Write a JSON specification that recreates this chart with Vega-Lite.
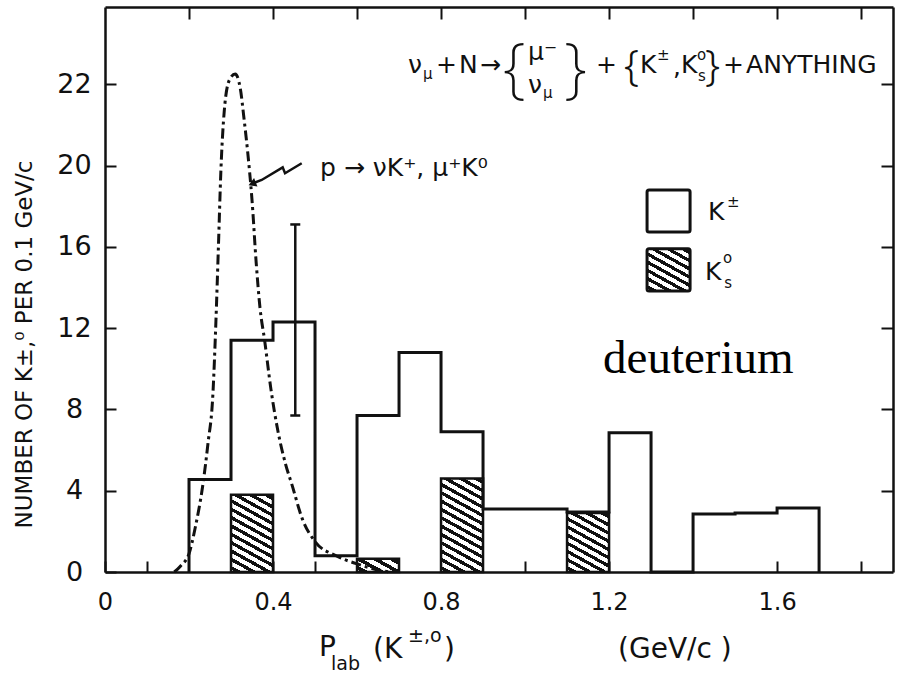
{
  "$schema": "https://vega.github.io/schema/vega-lite/v6.json",
  "width": 788,
  "height": 565,
  "autosize": {"type": "none"},
  "padding": {"left": 105, "top": 7, "right": 5, "bottom": 108},
  "background": "white",
  "config": {"view": {"stroke": null}, "axis": {"labelFont": "DejaVu Sans", "titleFont": "DejaVu Sans"}},
  "datasets": {
    "kpm": [
      {"i": 0, "x": 0.2, "n": 0}, {"i": 1, "x": 0.2, "n": 4.55}, {"i": 2, "x": 0.3, "n": 11.4},
      {"i": 3, "x": 0.4, "n": 12.3}, {"i": 4, "x": 0.5, "n": 0.8}, {"i": 5, "x": 0.6, "n": 7.7},
      {"i": 6, "x": 0.7, "n": 10.8}, {"i": 7, "x": 0.8, "n": 6.9}, {"i": 8, "x": 0.9, "n": 3.1},
      {"i": 9, "x": 1.1, "n": 2.95}, {"i": 10, "x": 1.2, "n": 6.85}, {"i": 11, "x": 1.3, "n": 0},
      {"i": 12, "x": 1.4, "n": 2.85}, {"i": 13, "x": 1.5, "n": 2.9}, {"i": 14, "x": 1.6, "n": 3.15},
      {"i": 15, "x": 1.7, "n": 0}
    ],
    "k0": [
      {"lo": 0.3, "hi": 0.4, "n": 3.8},
      {"lo": 0.6, "hi": 0.7, "n": 0.65},
      {"lo": 0.8, "hi": 0.9, "n": 4.6},
      {"lo": 1.1, "hi": 1.2, "n": 2.9}
    ],
    "curve": [
      {"x": 0.165, "n": 0}, {"x": 0.18, "n": 0.3}, {"x": 0.2, "n": 0.9}, {"x": 0.215, "n": 2.2},
      {"x": 0.233, "n": 4.3}, {"x": 0.245, "n": 6.3}, {"x": 0.257, "n": 8.8}, {"x": 0.264, "n": 12.3},
      {"x": 0.27, "n": 16}, {"x": 0.276, "n": 19.8}, {"x": 0.284, "n": 22.7}, {"x": 0.296, "n": 24.2},
      {"x": 0.31, "n": 24.5}, {"x": 0.322, "n": 23.8}, {"x": 0.331, "n": 22.3}, {"x": 0.34, "n": 20.6},
      {"x": 0.35, "n": 18.3}, {"x": 0.36, "n": 15.2}, {"x": 0.369, "n": 13.0}, {"x": 0.38, "n": 11.4},
      {"x": 0.395, "n": 9.0}, {"x": 0.412, "n": 6.9}, {"x": 0.43, "n": 5.3}, {"x": 0.445, "n": 4.3},
      {"x": 0.47, "n": 2.6}, {"x": 0.5, "n": 1.5}, {"x": 0.55, "n": 0.8}, {"x": 0.6, "n": 0.4},
      {"x": 0.65, "n": 0.1}, {"x": 0.68, "n": 0}
    ],
    "err": [{"x": 0.453, "lo": 7.7, "hi": 17.1}],
    "arrow": [
      {"i": 0, "x": 0.4683, "n": 20.11}, {"i": 1, "x": 0.4286, "n": 19.62}, {"i": 2, "x": 0.423, "n": 19.91},
      {"i": 3, "x": 0.373, "n": 19.29}, {"i": 4, "x": 0.3532, "n": 19.13}
    ],
    "leg": [
      {"k": "open", "x": 1.2905, "x2": 1.3929, "n": 16.73, "n2": 18.8},
      {"k": "hatch", "x": 1.2905, "x2": 1.3929, "n": 13.83, "n2": 15.9}
    ],
    "txt": [
      {"r": "a", "x": 0.7214, "n": 24.95, "t": "ν"},
      {"r": "s", "x": 0.7571, "n": 24.5, "t": "μ"},
      {"r": "a", "x": 0.7881, "n": 24.95, "t": "+"},
      {"r": "a", "x": 0.8429, "n": 24.95, "t": "N"},
      {"r": "a", "x": 0.8929, "n": 24.95, "t": "→"},
      {"r": "bb", "x": 0.9476, "n": 24.66, "t": "{"},
      {"r": "a", "x": 1.0071, "n": 25.6, "t": "μ⁻"},
      {"r": "a", "x": 1.0071, "n": 23.95, "t": "ν"},
      {"r": "s", "x": 1.0429, "n": 23.55, "t": "μ"},
      {"r": "bb", "x": 1.0929, "n": 24.66, "t": "}"},
      {"r": "a", "x": 1.169, "n": 24.95, "t": "+"},
      {"r": "br", "x": 1.2357, "n": 24.85, "t": "{"},
      {"r": "a", "x": 1.2738, "n": 24.95, "t": "K"},
      {"r": "s", "x": 1.314, "n": 25.45, "t": "±"},
      {"r": "a", "x": 1.352, "n": 24.85, "t": ","},
      {"r": "a", "x": 1.3714, "n": 24.95, "t": "K"},
      {"r": "s", "x": 1.4095, "n": 25.45, "t": "o"},
      {"r": "s", "x": 1.412, "n": 24.4, "t": "s"},
      {"r": "br", "x": 1.4286, "n": 24.85, "t": "}"},
      {"r": "a", "x": 1.4714, "n": 24.95, "t": "+"},
      {"r": "a", "x": 1.5262, "n": 24.95, "t": "ANYTHING"},
      {"r": "a", "x": 1.4357, "n": 17.72, "t": "K"},
      {"r": "s", "x": 1.481, "n": 18.2, "t": "±"},
      {"r": "a", "x": 1.4286, "n": 14.76, "t": "K"},
      {"r": "s", "x": 1.4714, "n": 15.45, "t": "o"},
      {"r": "s", "x": 1.474, "n": 14.2, "t": "s"},
      {"r": "pk", "x": 0.512, "n": 19.88, "t": "p → νK⁺, μ⁺K⁰"},
      {"r": "xt", "x": 0.5095, "n": -3.74, "t": "P"},
      {"r": "xts", "x": 0.5381, "n": -4.55, "t": "lab"},
      {"r": "xt", "x": 0.638, "n": -3.84, "t": "(K"},
      {"r": "xts", "x": 0.7214, "n": -3.15, "t": "±,o"},
      {"r": "xt", "x": 0.807, "n": -3.84, "t": ")"},
      {"r": "xt", "x": 1.2214, "n": -3.84, "t": "(GeV/c  )"},
      {"r": "deut", "x": 1.1857, "n": 9.79, "t": "deuterium"}
    ]
  },
  "resolve": {"axis": {"x": "independent", "y": "independent"}},
  "layer": [
    {
      "data": {"name": "k0"},
      "transform": [{"filter": "datum.lo == 0.3"}],
      "mark": {"type": "rect", "stroke": "#111", "strokeWidth": 2.5,
        "fill": {"gradient": "linear", "x1": 0, "y1": 1, "x2": 0.3568, "y2": -0.1924, "stops": [
          {"offset": 0.025, "color": "#fff"}, {"offset": 0.025, "color": "#111"}, {"offset": 0.0625, "color": "#111"}, {"offset": 0.0625, "color": "#fff"},
          {"offset": 0.1083, "color": "#fff"}, {"offset": 0.1083, "color": "#111"}, {"offset": 0.1458, "color": "#111"}, {"offset": 0.1458, "color": "#fff"},
          {"offset": 0.1917, "color": "#fff"}, {"offset": 0.1917, "color": "#111"}, {"offset": 0.2292, "color": "#111"}, {"offset": 0.2292, "color": "#fff"},
          {"offset": 0.275, "color": "#fff"}, {"offset": 0.275, "color": "#111"}, {"offset": 0.3125, "color": "#111"}, {"offset": 0.3125, "color": "#fff"},
          {"offset": 0.3583, "color": "#fff"}, {"offset": 0.3583, "color": "#111"}, {"offset": 0.3958, "color": "#111"}, {"offset": 0.3958, "color": "#fff"},
          {"offset": 0.4417, "color": "#fff"}, {"offset": 0.4417, "color": "#111"}, {"offset": 0.4792, "color": "#111"}, {"offset": 0.4792, "color": "#fff"},
          {"offset": 0.525, "color": "#fff"}, {"offset": 0.525, "color": "#111"}, {"offset": 0.5625, "color": "#111"}, {"offset": 0.5625, "color": "#fff"},
          {"offset": 0.6083, "color": "#fff"}, {"offset": 0.6083, "color": "#111"}, {"offset": 0.6458, "color": "#111"}, {"offset": 0.6458, "color": "#fff"},
          {"offset": 0.6917, "color": "#fff"}, {"offset": 0.6917, "color": "#111"}, {"offset": 0.7292, "color": "#111"}, {"offset": 0.7292, "color": "#fff"},
          {"offset": 0.775, "color": "#fff"}, {"offset": 0.775, "color": "#111"}, {"offset": 0.8125, "color": "#111"}, {"offset": 0.8125, "color": "#fff"},
          {"offset": 0.8583, "color": "#fff"}, {"offset": 0.8583, "color": "#111"}, {"offset": 0.8958, "color": "#111"}, {"offset": 0.8958, "color": "#fff"},
          {"offset": 0.9417, "color": "#fff"}, {"offset": 0.9417, "color": "#111"}, {"offset": 0.9792, "color": "#111"}, {"offset": 0.9792, "color": "#fff"}
        ]}},
      "encoding": {
        "x": {"field": "lo", "type": "quantitative", "axis": null},
        "x2": {"field": "hi"},
        "y": {"field": "n", "type": "quantitative", "axis": null},
        "y2": {"datum": 0}
      }
    },
    {
      "data": {"name": "k0"},
      "transform": [{"filter": "datum.lo == 0.6"}],
      "mark": {"type": "rect", "stroke": "#111", "strokeWidth": 2.5,
        "fill": {"gradient": "linear", "x1": 0, "y1": 1, "x2": 1.185, "y2": 0.323, "stops": [
          {"offset": 0.075, "color": "#fff"}, {"offset": 0.075, "color": "#111"}, {"offset": 0.1875, "color": "#111"}, {"offset": 0.1875, "color": "#fff"},
          {"offset": 0.325, "color": "#fff"}, {"offset": 0.325, "color": "#111"}, {"offset": 0.4375, "color": "#111"}, {"offset": 0.4375, "color": "#fff"},
          {"offset": 0.575, "color": "#fff"}, {"offset": 0.575, "color": "#111"}, {"offset": 0.6875, "color": "#111"}, {"offset": 0.6875, "color": "#fff"},
          {"offset": 0.825, "color": "#fff"}, {"offset": 0.825, "color": "#111"}, {"offset": 0.9375, "color": "#111"}, {"offset": 0.9375, "color": "#fff"}
        ]}},
      "encoding": {
        "x": {"field": "lo", "type": "quantitative", "axis": null},
        "x2": {"field": "hi"},
        "y": {"field": "n", "type": "quantitative", "axis": null},
        "y2": {"datum": 0}
      }
    },
    {
      "data": {"name": "k0"},
      "transform": [{"filter": "datum.lo == 0.8"}],
      "mark": {"type": "rect", "stroke": "#111", "strokeWidth": 2.5,
        "fill": {"gradient": "linear", "x1": 0, "y1": 1, "x2": 0.2904, "y2": -0.1754, "stops": [
          {"offset": 0.0214, "color": "#fff"}, {"offset": 0.0214, "color": "#111"}, {"offset": 0.0536, "color": "#111"}, {"offset": 0.0536, "color": "#fff"},
          {"offset": 0.0929, "color": "#fff"}, {"offset": 0.0929, "color": "#111"}, {"offset": 0.125, "color": "#111"}, {"offset": 0.125, "color": "#fff"},
          {"offset": 0.1643, "color": "#fff"}, {"offset": 0.1643, "color": "#111"}, {"offset": 0.1964, "color": "#111"}, {"offset": 0.1964, "color": "#fff"},
          {"offset": 0.2357, "color": "#fff"}, {"offset": 0.2357, "color": "#111"}, {"offset": 0.2679, "color": "#111"}, {"offset": 0.2679, "color": "#fff"},
          {"offset": 0.3071, "color": "#fff"}, {"offset": 0.3071, "color": "#111"}, {"offset": 0.3393, "color": "#111"}, {"offset": 0.3393, "color": "#fff"},
          {"offset": 0.3786, "color": "#fff"}, {"offset": 0.3786, "color": "#111"}, {"offset": 0.4107, "color": "#111"}, {"offset": 0.4107, "color": "#fff"},
          {"offset": 0.45, "color": "#fff"}, {"offset": 0.45, "color": "#111"}, {"offset": 0.4821, "color": "#111"}, {"offset": 0.4821, "color": "#fff"},
          {"offset": 0.5214, "color": "#fff"}, {"offset": 0.5214, "color": "#111"}, {"offset": 0.5536, "color": "#111"}, {"offset": 0.5536, "color": "#fff"},
          {"offset": 0.5929, "color": "#fff"}, {"offset": 0.5929, "color": "#111"}, {"offset": 0.625, "color": "#111"}, {"offset": 0.625, "color": "#fff"},
          {"offset": 0.6643, "color": "#fff"}, {"offset": 0.6643, "color": "#111"}, {"offset": 0.6964, "color": "#111"}, {"offset": 0.6964, "color": "#fff"},
          {"offset": 0.7357, "color": "#fff"}, {"offset": 0.7357, "color": "#111"}, {"offset": 0.7679, "color": "#111"}, {"offset": 0.7679, "color": "#fff"},
          {"offset": 0.8071, "color": "#fff"}, {"offset": 0.8071, "color": "#111"}, {"offset": 0.8393, "color": "#111"}, {"offset": 0.8393, "color": "#fff"},
          {"offset": 0.8786, "color": "#fff"}, {"offset": 0.8786, "color": "#111"}, {"offset": 0.9107, "color": "#111"}, {"offset": 0.9107, "color": "#fff"},
          {"offset": 0.95, "color": "#fff"}, {"offset": 0.95, "color": "#111"}, {"offset": 0.9821, "color": "#111"}, {"offset": 0.9821, "color": "#fff"}
        ]}},
      "encoding": {
        "x": {"field": "lo", "type": "quantitative", "axis": null},
        "x2": {"field": "hi"},
        "y": {"field": "n", "type": "quantitative", "axis": null},
        "y2": {"datum": 0}
      }
    },
    {
      "data": {"name": "k0"},
      "transform": [{"filter": "datum.lo == 1.1"}],
      "mark": {"type": "rect", "stroke": "#111", "strokeWidth": 2.5,
        "fill": {"gradient": "linear", "x1": 0, "y1": 1, "x2": 0.4733, "y2": -0.2067, "stops": [
          {"offset": 0.03, "color": "#fff"}, {"offset": 0.03, "color": "#111"}, {"offset": 0.075, "color": "#111"}, {"offset": 0.075, "color": "#fff"},
          {"offset": 0.13, "color": "#fff"}, {"offset": 0.13, "color": "#111"}, {"offset": 0.175, "color": "#111"}, {"offset": 0.175, "color": "#fff"},
          {"offset": 0.23, "color": "#fff"}, {"offset": 0.23, "color": "#111"}, {"offset": 0.275, "color": "#111"}, {"offset": 0.275, "color": "#fff"},
          {"offset": 0.33, "color": "#fff"}, {"offset": 0.33, "color": "#111"}, {"offset": 0.375, "color": "#111"}, {"offset": 0.375, "color": "#fff"},
          {"offset": 0.43, "color": "#fff"}, {"offset": 0.43, "color": "#111"}, {"offset": 0.475, "color": "#111"}, {"offset": 0.475, "color": "#fff"},
          {"offset": 0.53, "color": "#fff"}, {"offset": 0.53, "color": "#111"}, {"offset": 0.575, "color": "#111"}, {"offset": 0.575, "color": "#fff"},
          {"offset": 0.63, "color": "#fff"}, {"offset": 0.63, "color": "#111"}, {"offset": 0.675, "color": "#111"}, {"offset": 0.675, "color": "#fff"},
          {"offset": 0.73, "color": "#fff"}, {"offset": 0.73, "color": "#111"}, {"offset": 0.775, "color": "#111"}, {"offset": 0.775, "color": "#fff"},
          {"offset": 0.83, "color": "#fff"}, {"offset": 0.83, "color": "#111"}, {"offset": 0.875, "color": "#111"}, {"offset": 0.875, "color": "#fff"},
          {"offset": 0.93, "color": "#fff"}, {"offset": 0.93, "color": "#111"}, {"offset": 0.975, "color": "#111"}, {"offset": 0.975, "color": "#fff"}
        ]}},
      "encoding": {
        "x": {"field": "lo", "type": "quantitative", "axis": null},
        "x2": {"field": "hi"},
        "y": {"field": "n", "type": "quantitative", "axis": null},
        "y2": {"datum": 0}
      }
    },
    {
      "data": {"name": "kpm"},
      "mark": {"type": "line", "interpolate": "step-after", "color": "#111", "strokeWidth": 3},
      "encoding": {
        "x": {"field": "x", "type": "quantitative",
          "scale": {"domain": [0, 1.876], "nice": false, "zero": false},
          "axis": {"orient": "bottom", "values": [0, 0.1, 0.4, 0.5, 0.8, 1.0, 1.2, 1.6, 1.8],
            "labelExpr": "datum.value == 0 ? '0' : ((datum.value == 0.4 || datum.value == 0.8 || datum.value == 1.2 || datum.value == 1.6) ? format(datum.value, '.1f') : '')",
            "title": null, "grid": false, "labelFontSize": 24, "labelColor": "#111", "labelBaseline": "middle",
            "labelPadding": 41, "labelFlush": false, "labelOverlap": false,
            "tickSize": -11, "tickWidth": 2, "tickColor": "#111", "domainColor": "#111", "domainWidth": 2.5}},
        "y": {"field": "n", "type": "quantitative",
          "scale": {"domain": [0, 27.8], "nice": false, "zero": true},
          "axis": {"orient": "left", "values": [0, 4, 8, 12, 16, 20, 24],
            "labelExpr": "datum.value == 24 ? '22' : datum.label",
            "title": "NUMBER OF K±,⁰ PER 0.1 GeV/c", "titleX": -81, "titleY": 337, "titleAngle": -90,
            "titleAlign": "center", "titleBaseline": "middle", "titleFontSize": 23, "titleFontWeight": "normal", "titleColor": "#111",
            "grid": false, "labelFontSize": 27, "labelColor": "#111", "labelAlign": "center", "labelBaseline": "middle",
            "labelPadding": 42, "labelFlush": false, "labelOverlap": false,
            "tickSize": -11, "tickWidth": 2, "tickColor": "#111", "domainColor": "#111", "domainWidth": 2.5}},
        "order": {"field": "i", "type": "quantitative"}
      }
    },
    {
      "data": {"name": "curve"},
      "mark": {"type": "line", "interpolate": "monotone", "color": "#111", "strokeWidth": 3, "strokeDash": [10, 4, 3, 4]},
      "encoding": {
        "x": {"field": "x", "type": "quantitative",
          "axis": {"orient": "top", "values": [0.2, 0.4, 0.6, 0.8, 1.0, 1.2, 1.4, 1.6, 1.8], "labels": false, "title": null, "grid": false,
            "tickSize": -12, "tickWidth": 2, "tickColor": "#111", "domainColor": "#111", "domainWidth": 2.5}},
        "y": {"field": "n", "type": "quantitative",
          "axis": {"orient": "right", "values": [4, 8, 12, 16, 20, 24], "labels": false, "title": null, "grid": false,
            "tickSize": -12, "tickWidth": 2, "tickColor": "#111", "domainColor": "#111", "domainWidth": 2.5}}
      }
    },
    {
      "data": {"name": "err"},
      "mark": {"type": "rule", "color": "#111", "strokeWidth": 2.5},
      "encoding": {
        "x": {"field": "x", "type": "quantitative", "axis": null},
        "y": {"field": "lo", "type": "quantitative", "axis": null},
        "y2": {"field": "hi"}
      }
    },
    {
      "data": {"name": "err"},
      "mark": {"type": "tick", "orient": "horizontal", "color": "#111", "size": 10, "thickness": 2.5, "opacity": 1},
      "encoding": {
        "x": {"field": "x", "type": "quantitative", "axis": null},
        "y": {"field": "lo", "type": "quantitative", "axis": null}
      }
    },
    {
      "data": {"name": "err"},
      "mark": {"type": "tick", "orient": "horizontal", "color": "#111", "size": 10, "thickness": 2.5, "opacity": 1},
      "encoding": {
        "x": {"field": "x", "type": "quantitative", "axis": null},
        "y": {"field": "hi", "type": "quantitative", "axis": null}
      }
    },
    {
      "data": {"name": "arrow"},
      "mark": {"type": "line", "color": "#111", "strokeWidth": 2.5},
      "encoding": {
        "x": {"field": "x", "type": "quantitative", "axis": null},
        "y": {"field": "n", "type": "quantitative", "axis": null},
        "order": {"field": "i", "type": "quantitative"}
      }
    },
    {
      "data": {"name": "arrow"},
      "transform": [{"filter": "datum.i == 4"}],
      "mark": {"type": "point", "shape": "triangle", "filled": true, "color": "#111", "size": 80, "angle": 248, "opacity": 1},
      "encoding": {
        "x": {"field": "x", "type": "quantitative", "axis": null},
        "y": {"field": "n", "type": "quantitative", "axis": null}
      }
    },
    {
      "data": {"name": "leg"},
      "transform": [{"filter": "datum.k == 'open'"}],
      "mark": {"type": "rect", "fill": "white", "stroke": "#111", "strokeWidth": 3, "cornerRadius": 2},
      "encoding": {
        "x": {"field": "x", "type": "quantitative", "axis": null},
        "x2": {"field": "x2"},
        "y": {"field": "n", "type": "quantitative", "axis": null},
        "y2": {"field": "n2"}
      }
    },
    {
      "data": {"name": "leg"},
      "transform": [{"filter": "datum.k == 'hatch'"}],
      "mark": {"type": "rect", "stroke": "#111", "strokeWidth": 3, "cornerRadius": 2,
        "fill": {"gradient": "linear", "x1": 0, "y1": 1, "x2": 0.6683, "y2": -0.1868, "stops": [
          {"offset": 0.0375, "color": "#fff"}, {"offset": 0.0375, "color": "#111"}, {"offset": 0.09375, "color": "#111"}, {"offset": 0.09375, "color": "#fff"},
          {"offset": 0.1625, "color": "#fff"}, {"offset": 0.1625, "color": "#111"}, {"offset": 0.21875, "color": "#111"}, {"offset": 0.21875, "color": "#fff"},
          {"offset": 0.2875, "color": "#fff"}, {"offset": 0.2875, "color": "#111"}, {"offset": 0.34375, "color": "#111"}, {"offset": 0.34375, "color": "#fff"},
          {"offset": 0.4125, "color": "#fff"}, {"offset": 0.4125, "color": "#111"}, {"offset": 0.46875, "color": "#111"}, {"offset": 0.46875, "color": "#fff"},
          {"offset": 0.5375, "color": "#fff"}, {"offset": 0.5375, "color": "#111"}, {"offset": 0.59375, "color": "#111"}, {"offset": 0.59375, "color": "#fff"},
          {"offset": 0.6625, "color": "#fff"}, {"offset": 0.6625, "color": "#111"}, {"offset": 0.71875, "color": "#111"}, {"offset": 0.71875, "color": "#fff"},
          {"offset": 0.7875, "color": "#fff"}, {"offset": 0.7875, "color": "#111"}, {"offset": 0.84375, "color": "#111"}, {"offset": 0.84375, "color": "#fff"},
          {"offset": 0.9125, "color": "#fff"}, {"offset": 0.9125, "color": "#111"}, {"offset": 0.96875, "color": "#111"}, {"offset": 0.96875, "color": "#fff"}
        ]}},
      "encoding": {
        "x": {"field": "x", "type": "quantitative", "axis": null},
        "x2": {"field": "x2"},
        "y": {"field": "n", "type": "quantitative", "axis": null},
        "y2": {"field": "n2"}
      }
    },
    {
      "data": {"name": "txt"},
      "transform": [{"filter": "datum.r == 'a'"}],
      "mark": {"type": "text", "font": "DejaVu Sans", "fontSize": 25, "align": "left", "baseline": "middle", "color": "#111"},
      "encoding": {
        "x": {"field": "x", "type": "quantitative", "axis": null},
        "y": {"field": "n", "type": "quantitative", "axis": null},
        "text": {"field": "t"}
      }
    },
    {
      "data": {"name": "txt"},
      "transform": [{"filter": "datum.r == 's'"}],
      "mark": {"type": "text", "font": "DejaVu Sans", "fontSize": 15, "align": "left", "baseline": "middle", "color": "#111"},
      "encoding": {
        "x": {"field": "x", "type": "quantitative", "axis": null},
        "y": {"field": "n", "type": "quantitative", "axis": null},
        "text": {"field": "t"}
      }
    },
    {
      "data": {"name": "txt"},
      "transform": [{"filter": "datum.r == 'bb'"}],
      "mark": {"type": "text", "font": "Noto Sans", "fontWeight": 200, "fontSize": 66, "align": "left", "baseline": "middle", "color": "#111"},
      "encoding": {
        "x": {"field": "x", "type": "quantitative", "axis": null},
        "y": {"field": "n", "type": "quantitative", "axis": null},
        "text": {"field": "t"}
      }
    },
    {
      "data": {"name": "txt"},
      "transform": [{"filter": "datum.r == 'br'"}],
      "mark": {"type": "text", "font": "Noto Sans", "fontWeight": 300, "fontSize": 42, "align": "left", "baseline": "middle", "color": "#111"},
      "encoding": {
        "x": {"field": "x", "type": "quantitative", "axis": null},
        "y": {"field": "n", "type": "quantitative", "axis": null},
        "text": {"field": "t"}
      }
    },
    {
      "data": {"name": "txt"},
      "transform": [{"filter": "datum.r == 'pk'"}],
      "mark": {"type": "text", "font": "DejaVu Sans", "fontSize": 25, "align": "left", "baseline": "middle", "color": "#111"},
      "encoding": {
        "x": {"field": "x", "type": "quantitative", "axis": null},
        "y": {"field": "n", "type": "quantitative", "axis": null},
        "text": {"field": "t"}
      }
    },
    {
      "data": {"name": "txt"},
      "transform": [{"filter": "datum.r == 'xt'"}],
      "mark": {"type": "text", "font": "DejaVu Sans", "fontSize": 28, "align": "left", "baseline": "middle", "color": "#111"},
      "encoding": {
        "x": {"field": "x", "type": "quantitative", "axis": null},
        "y": {"field": "n", "type": "quantitative", "axis": null},
        "text": {"field": "t"}
      }
    },
    {
      "data": {"name": "txt"},
      "transform": [{"filter": "datum.r == 'xts'"}],
      "mark": {"type": "text", "font": "DejaVu Sans", "fontSize": 19, "align": "left", "baseline": "middle", "color": "#111"},
      "encoding": {
        "x": {"field": "x", "type": "quantitative", "axis": null},
        "y": {"field": "n", "type": "quantitative", "axis": null},
        "text": {"field": "t"}
      }
    },
    {
      "data": {"name": "txt"},
      "transform": [{"filter": "datum.r == 'deut'"}],
      "mark": {"type": "text", "font": "Liberation Serif", "fontSize": 47, "align": "left", "baseline": "alphabetic", "color": "#000"},
      "encoding": {
        "x": {"field": "x", "type": "quantitative", "axis": null},
        "y": {"field": "n", "type": "quantitative", "axis": null},
        "text": {"field": "t"}
      }
    }
  ]
}
